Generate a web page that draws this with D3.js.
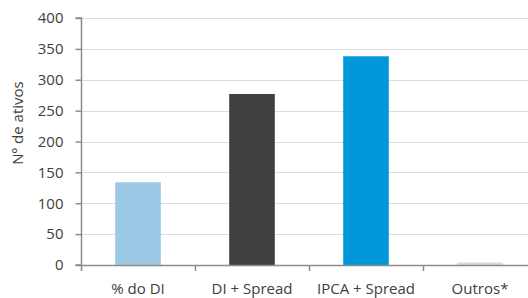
<!DOCTYPE html>
<html>
<head>
<meta charset="utf-8">
<script src="https://cdn.jsdelivr.net/npm/d3@7"></script>
<style>
  body { margin: 0; background: #fff; }
  text { font-family: "Open Sans", sans-serif; fill: #404040; }
</style>
</head>
<body>
<svg id="chart" width="528" height="298"></svg>
<script>
const categories = ["% do DI", "DI + Spread", "IPCA + Spread", "Outros*"];
const values = [134, 277, 338, 4];
const colors = ["#9DC8E5", "#404040", "#0098DA", "#D9D9D9"];
const yTicks = [0, 50, 100, 150, 200, 250, 300, 350, 400];

const width = 528;
const height = 298;
const margin = { top: 18, right: -9, bottom: 33, left: 81 };

const svg = d3.select("#chart");

const xScale = d3
  .scaleBand()
  .domain(categories)
  .range([margin.left, width - margin.right])
  .paddingInner(0.6)
  .paddingOuter(0.3);

const yScale = d3
  .scaleLinear()
  .domain([0, 400])
  .range([height - margin.bottom, margin.top]);

// gridlines
svg
  .selectAll("line.grid")
  .data(yTicks.filter((d) => d > 0))
  .enter()
  .append("line")
  .attr("class", "grid")
  .attr("x1", margin.left)
  .attr("x2", width)
  .attr("y1", (d) => Math.round(yScale(d)) + 0.5)
  .attr("y2", (d) => Math.round(yScale(d)) + 0.5)
  .style("stroke", "#DDDDDD")
  .style("stroke-width", 1);

// bars
svg
  .selectAll("rect")
  .data(values)
  .enter()
  .append("rect")
  .attr("x", (d, i) => xScale(categories[i]))
  .attr("y", (d) => yScale(d))
  .attr("width", xScale.bandwidth())
  .attr("height", (d) => yScale(0) - yScale(d))
  .style("fill", (d, i) => colors[i]);

// y axis
const yAxis = d3.axisLeft(yScale).tickValues(yTicks).tickSize(6).tickPadding(12);
const gy = svg
  .append("g")
  .attr("transform", `translate(${margin.left + 0.5}, 0)`)
  .call(yAxis);
gy.selectAll("line, path").style("stroke", "#8C8C8C").style("stroke-width", 1.5);
gy.select(".domain").attr("d", `M-6,${yScale(400)}H0V${yScale(0)}H-6`);
gy.selectAll("text")
  .attr("x", -18)
  .style("font-size", "15px")
  .style("fill", "#404040");

// x axis with ticks at band boundaries
const step = xScale.step();
const bounds = d3.range(categories.length + 1).map((i) => margin.left + i * step);
svg
  .append("line")
  .attr("x1", margin.left)
  .attr("x2", width)
  .attr("y1", yScale(0) + 0.5)
  .attr("y2", yScale(0) + 0.5)
  .style("stroke", "#8C8C8C")
  .style("stroke-width", 1.5);
svg
  .selectAll("line.xtick")
  .data(bounds)
  .enter()
  .append("line")
  .attr("class", "xtick")
  .attr("x1", (d) => Math.round(d) + 0.5)
  .attr("x2", (d) => Math.round(d) + 0.5)
  .attr("y1", yScale(0))
  .attr("y2", yScale(0) + 6)
  .style("stroke", "#8C8C8C")
  .style("stroke-width", 1.5);

svg
  .selectAll("text.xlabel")
  .data(categories)
  .enter()
  .append("text")
  .attr("class", "xlabel")
  .attr("x", (d) => xScale(d) + xScale.bandwidth() / 2)
  .attr("y", 294)
  .attr("text-anchor", "middle")
  .style("font-size", "15px")
  .text((d) => d);

// y label
svg
  .append("text")
  .attr("transform", `translate(23, 123) rotate(-90)`)
  .attr("text-anchor", "middle")
  .style("font-size", "15px")
  .text("Nº de ativos");
</script>
</body>
</html>
